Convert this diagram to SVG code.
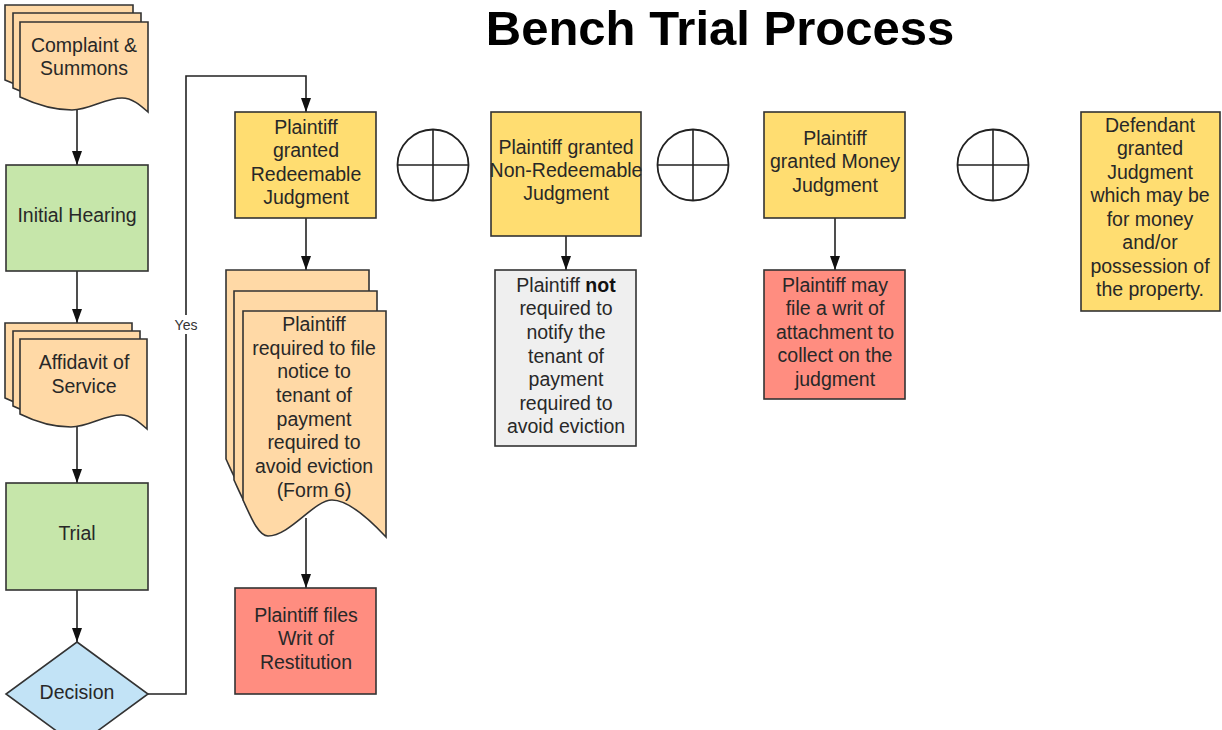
<svg xmlns="http://www.w3.org/2000/svg" width="1222" height="730" viewBox="0 0 1222 730">
<defs>
<style>
.t{font-family:"Liberation Sans",Arial,sans-serif;font-size:19.5px;fill:#282828;text-anchor:middle}
.title{font-family:"Liberation Sans",Arial,sans-serif;font-size:49px;font-weight:bold;fill:#000;text-anchor:middle}
.lbl{font-family:"Liberation Sans",Arial,sans-serif;font-size:14px;fill:#333;text-anchor:middle}
.n{stroke:#333;stroke-width:1.6}
.doc{fill:#ffd9a6}
.grn{fill:#c6e6aa}
.yel{fill:#ffdd71}
.red{fill:#ff8d80}
.gry{fill:#efefef}
.blu{fill:#c2e3f6}
.c{fill:none;stroke:#222;stroke-width:1.6}
.j{fill:#fff;stroke:#222;stroke-width:1.8}
</style>
<marker id="ah" markerUnits="userSpaceOnUse" markerWidth="14" markerHeight="10" refX="14" refY="5" orient="auto">
<path d="M0,0 L14,5 L0,10 Z" fill="#111"/>
</marker>
</defs>
<rect width="1222" height="730" fill="#fff"/>
<text class="title" x="720" y="45">Bench Trial Process</text>

<g id="connectors">
<line class="c" x1="77" y1="110" x2="77" y2="165" marker-end="url(#ah)"/>
<line class="c" x1="77" y1="271" x2="77" y2="323" marker-end="url(#ah)"/>
<line class="c" x1="77" y1="427" x2="77" y2="483" marker-end="url(#ah)"/>
<line class="c" x1="77" y1="590" x2="77" y2="642" marker-end="url(#ah)"/>
<path class="c" d="M148,694 H186 V76 H306 V112" marker-end="url(#ah)"/>
<rect x="172" y="315" width="28" height="19" fill="#fff"/>
<text class="lbl" x="186" y="330">Yes</text>
<line class="c" x1="306" y1="218" x2="306" y2="270" marker-end="url(#ah)"/>
<line class="c" x1="306" y1="518" x2="306" y2="588" marker-end="url(#ah)"/>
<line class="c" x1="566" y1="236" x2="566" y2="270" marker-end="url(#ah)"/>
<line class="c" x1="835" y1="218" x2="835" y2="270" marker-end="url(#ah)"/>
</g>

<g id="complaint">
<path class="n doc" d="M5,5 H133 V95 C125,88 117,81 107,81 C90,81 75,93 57,93 C37,93 20,87 5,80 Z"/>
<path class="n doc" d="M13,13 H141 V103 C133,96 125,89 115,89 C98,89 83,101 65,101 C45,101 28,95 13,88 Z"/>
<path class="n doc" d="M20,22 H148 V112 C140,105 132,98 122,98 C105,98 90,110 72,110 C52,110 35,104 20,97 Z"/>
<text class="t" x="84" y="52">Complaint &amp;</text>
<text class="t" x="84" y="75">Summons</text>
</g>

<g id="initial-hearing">
<rect class="n grn" x="6" y="165" width="142" height="106"/>
<text class="t" x="77" y="222">Initial Hearing</text>
</g>

<g id="affidavit">
<path class="n doc" d="M5,323 H132 V413 C124,406 116,399 106,399 C89,399 74,411 56,411 C36,411 19,405 5,398 Z"/>
<path class="n doc" d="M13,331 H140 V421 C132,414 124,407 114,407 C97,407 82,419 64,419 C44,419 27,413 13,406 Z"/>
<path class="n doc" d="M20,339 H147 V429 C139,422 131,415 121,415 C104,415 89,427 71,427 C51,427 34,421 20,414 Z"/>
<text class="t" x="84" y="369">Affidavit of</text>
<text class="t" x="84" y="393">Service</text>
</g>

<g id="trial">
<rect class="n grn" x="6" y="483" width="142" height="107"/>
<text class="t" x="77" y="540">Trial</text>
</g>

<g id="decision">
<path class="n blu" d="M77,642 L148,694 L77,746 L6,694 Z"/>
<text class="t" x="77" y="699">Decision</text>
</g>

<g id="redeemable">
<rect class="n yel" x="235" y="112" width="141" height="106"/>
<text class="t" x="306" y="134">Plaintiff</text>
<text class="t" x="306" y="157">granted</text>
<text class="t" x="306" y="181">Redeemable</text>
<text class="t" x="306" y="204">Judgment</text>
</g>

<g id="notice-doc">
<path class="n doc" d="M226,270 H369 V496 C355,481 333,459 315,459 C297,459 273,495 251,495 C241,495 233,474 226,459 Z"/>
<path class="n doc" d="M234,291 H377 V517 C363,502 341,480 323,480 C305,480 281,516 259,516 C249,516 241,495 234,480 Z"/>
<path class="n doc" d="M243,311 H386 V537 C372,522 350,500 332,500 C314,500 290,536 268,536 C258,536 250,515 243,500 Z"/>
<text class="t" x="314" y="331">Plaintiff</text>
<text class="t" x="314" y="355">required to file</text>
<text class="t" x="314" y="378">notice to</text>
<text class="t" x="314" y="402">tenant of</text>
<text class="t" x="314" y="426">payment</text>
<text class="t" x="314" y="449">required to</text>
<text class="t" x="314" y="473">avoid eviction</text>
<text class="t" x="314" y="497">(Form 6)</text>
</g>

<g id="writ-restitution">
<rect class="n red" x="235" y="588" width="141" height="106"/>
<text class="t" x="306" y="622">Plaintiff files</text>
<text class="t" x="306" y="645">Writ of</text>
<text class="t" x="306" y="669">Restitution</text>
</g>

<g id="junction-1">
<circle class="j" cx="433" cy="165" r="35.5"/>
<path class="c" d="M397.5,165 H468.5 M433,129.5 V200.5"/>
</g>

<g id="non-redeemable">
<rect class="n yel" x="491" y="112" width="150" height="124"/>
<text class="t" x="566" y="154">Plaintiff granted</text>
<text class="t" x="566" y="177">Non-Redeemable</text>
<text class="t" x="566" y="200">Judgment</text>
</g>

<g id="not-required">
<rect class="n gry" x="495" y="270" width="141" height="176"/>
<text class="t" x="566" y="292">Plaintiff <tspan font-weight="bold" fill="#111">not</tspan></text>
<text class="t" x="566" y="315">required to</text>
<text class="t" x="566" y="339">notify the</text>
<text class="t" x="566" y="363">tenant of</text>
<text class="t" x="566" y="386">payment</text>
<text class="t" x="566" y="410">required to</text>
<text class="t" x="566" y="433">avoid eviction</text>
</g>

<g id="junction-2">
<circle class="j" cx="693" cy="165" r="35.5"/>
<path class="c" d="M657.5,165 H728.5 M693,129.5 V200.5"/>
</g>

<g id="money-judgment">
<rect class="n yel" x="764" y="112" width="141" height="106"/>
<text class="t" x="835" y="145">Plaintiff</text>
<text class="t" x="835" y="168">granted Money</text>
<text class="t" x="835" y="192">Judgment</text>
</g>

<g id="writ-attachment">
<rect class="n red" x="764" y="270" width="141" height="129"/>
<text class="t" x="835" y="292">Plaintiff may</text>
<text class="t" x="835" y="315">file a writ of</text>
<text class="t" x="835" y="339">attachment to</text>
<text class="t" x="835" y="362">collect on the</text>
<text class="t" x="835" y="386">judgment</text>
</g>

<g id="junction-3">
<circle class="j" cx="993" cy="165" r="35.5"/>
<path class="c" d="M957.5,165 H1028.5 M993,129.5 V200.5"/>
</g>

<g id="defendant">
<rect class="n yel" x="1081" y="112" width="139" height="199"/>
<text class="t" x="1150" y="132">Defendant</text>
<text class="t" x="1150" y="155">granted</text>
<text class="t" x="1150" y="179">Judgment</text>
<text class="t" x="1150" y="202">which may be</text>
<text class="t" x="1150" y="226">for money</text>
<text class="t" x="1150" y="249">and/or</text>
<text class="t" x="1150" y="273">possession of</text>
<text class="t" x="1150" y="296">the property.</text>
</g>
</svg>
